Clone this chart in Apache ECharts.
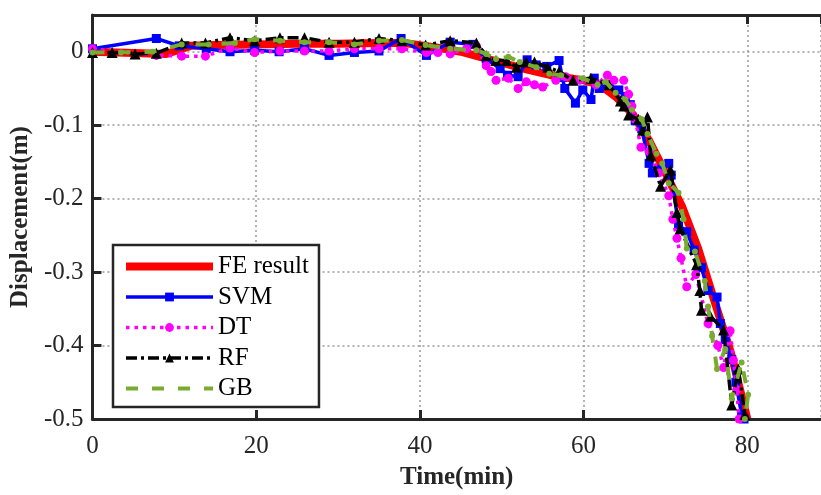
<!DOCTYPE html>
<html>
<head>
<meta charset="utf-8">
<script src="https://cdn.jsdelivr.net/npm/echarts@6/dist/echarts.min.js"></script>
<style>
html,body{margin:0;padding:0;background:#fff;}
#chart{width:821px;height:495px;}
</style>
</head>
<body>
<div id="chart"></div>
<script>
var seriesNames = ['FE result', 'SVM', 'DT', 'RF', 'GB'];
var xTicks = [0, 20, 40, 60, 80];
var yTicks = [0, -0.1, -0.2, -0.3, -0.4, -0.5];

var feTime = [0, 3, 6, 9, 12, 15, 20, 25, 30, 35, 38, 40, 43, 45, 48, 50, 53, 56, 60, 62, 64, 66, 68, 70, 72, 74, 76, 78, 80];
var feDisp = [0, -0.001, -0.002, -0.003, 0.008, 0.009, 0.010, 0.011, 0.011, 0.012, 0.012, 0.009, 0.004, 0.000, -0.009, -0.015, -0.024, -0.032, -0.039, -0.045, -0.062, -0.085, -0.121, -0.165, -0.210, -0.268, -0.340, -0.410, -0.500];

var svmTime = [0, 7.8, 10.6, 13.9, 16.8, 19.8, 22.8, 25.9, 28.9, 32, 35, 37.7, 40.8, 43.7, 46.5, 48.1, 49.8, 50.7, 52, 53.1, 54.2, 55.5, 57, 57.4, 57.7, 59, 59.9, 60.9, 61.3, 61.9, 63.1, 64.3, 65.1, 65.7, 66.3, 67.1, 68, 68.4, 69.2, 70.4, 70.7, 71.6, 72.6, 73.5, 74.4, 75.2, 76.3, 76.7, 77.3, 78.1, 78.6, 79.3, 79.6];
var svmDisp = [0.004, 0.018, 0.008, 0.004, 0.000, 0.002, 0.000, 0.004, -0.005, -0.001, 0.001, 0.018, -0.005, 0.013, 0.010, -0.010, -0.023, -0.032, -0.034, -0.011, -0.018, -0.020, -0.012, -0.035, -0.050, -0.070, -0.052, -0.065, -0.036, -0.050, -0.045, -0.052, -0.061, -0.072, -0.094, -0.105, -0.152, -0.165, -0.160, -0.152, -0.168, -0.236, -0.245, -0.270, -0.294, -0.325, -0.334, -0.370, -0.392, -0.419, -0.450, -0.494, -0.500];

var dtTime = [0, 7.8, 10.9, 13.8, 16.8, 19.8, 22.9, 25.9, 28.9, 32, 35, 37.8, 40.8, 42.2, 43.7, 45.7, 46.9, 48.1, 48.7, 49.3, 50.8, 52, 53, 54, 55, 56.6, 57.8, 59.5, 61.5, 62.9, 63.7, 64.9, 65.5, 65.9, 66.3, 67, 68, 69.2, 70.4, 70.9, 71.4, 71.9, 72.6, 73.7, 75.2, 76.4, 77.1, 77.9, 78.3, 78.7, 79.0];
var dtDisp = [0.004, -0.005, -0.006, -0.006, 0.005, -0.001, 0.001, 0.001, 0.001, 0.004, 0.004, 0.004, -0.001, -0.001, -0.003, 0.004, 0.008, -0.019, -0.027, -0.039, -0.036, -0.050, -0.041, -0.045, -0.048, -0.039, -0.034, -0.039, -0.045, -0.032, -0.039, -0.039, -0.058, -0.074, -0.092, -0.130, -0.136, -0.165, -0.196, -0.228, -0.254, -0.281, -0.320, -0.303, -0.370, -0.400, -0.430, -0.380, -0.420, -0.460, -0.500];

var rfTime = [0, 2.4, 5.2, 7.8, 10.9, 13.8, 16.8, 19.8, 22.9, 25.9, 28.9, 32, 35, 37.8, 40.7, 43.7, 46.9, 48.1, 49.3, 50.6, 51.8, 53, 54, 55.6, 57, 58.7, 60.9, 63.1, 64.5, 64.9, 65.5, 66.7, 67.2, 67.8, 68.2, 69.4, 70.6, 71.4, 71.8, 73.8, 74.2, 74.4, 75.5, 77.1, 78.1, 78.9, 79.7];
var rfDisp = [-0.001, -0.001, -0.003, -0.002, 0.012, 0.012, 0.019, 0.015, 0.019, 0.019, 0.013, 0.013, 0.018, 0.015, 0.009, 0.015, 0.012, -0.005, -0.012, -0.012, -0.021, -0.014, -0.014, -0.021, -0.027, -0.039, -0.036, -0.045, -0.067, -0.074, -0.086, -0.092, -0.107, -0.089, -0.141, -0.183, -0.161, -0.219, -0.241, -0.290, -0.325, -0.352, -0.360, -0.379, -0.481, -0.432, -0.494];

var gbTime = [0, 3.5, 7.3, 10.9, 14.2, 17.4, 19.8, 22.9, 25.9, 28.9, 32, 35, 37.8, 40.7, 43.7, 46.9, 48.1, 49.3, 50.8, 52.2, 54.2, 55.8, 57.2, 59.9, 61.7, 62.7, 63.9, 65.1, 65.9, 67.1, 67.8, 68.9, 69.6, 70.4, 71.6, 72.2, 72.6, 73.6, 74.8, 75.2, 75.7, 76.3, 77.3, 78.1, 79.3, 80.1, 79.7];
var gbDisp = [-0.001, -0.001, 0.000, 0.010, 0.010, 0.012, 0.017, 0.015, 0.013, 0.013, 0.010, 0.015, 0.016, 0.009, 0.004, 0.002, -0.003, -0.010, -0.007, -0.014, -0.021, -0.030, -0.032, -0.036, -0.045, -0.041, -0.056, -0.065, -0.079, -0.092, -0.112, -0.139, -0.152, -0.179, -0.192, -0.228, -0.268, -0.272, -0.312, -0.347, -0.387, -0.432, -0.405, -0.472, -0.423, -0.467, -0.500];

function pairs(t, v) { return t.map(function (x, i) { return [x, v[i]]; }); }

var FONT = '"Liberation Serif", "Times New Roman", serif';
var AX = '#262626';

var chart = echarts.init(document.getElementById('chart'), null, {renderer: 'canvas'});
var option = {
  animation: false,
  backgroundColor: '#ffffff',
  grid: {left: 90, top: 15, width: 733, height: 412, containLabel: false},
  legend: {
    orient: 'vertical',
    left: 113, top: 245,
    padding: [9, 10, 6, 9],
    itemGap: 5.5,
    itemWidth: 87, itemHeight: 11,
    backgroundColor: '#fff',
    borderColor: AX, borderWidth: 2.5, borderRadius: 0,
    textStyle: {fontFamily: FONT, fontSize: 25, color: '#000', lineHeight: 25},
    data: [
      {name: seriesNames[0], lineStyle: {width: 8}, itemStyle: {opacity: 0}},
      {name: seriesNames[1], lineStyle: {width: 3.5}},
      {name: seriesNames[2], lineStyle: {width: 3.5}},
      {name: seriesNames[3], lineStyle: {width: 3.5}},
      {name: seriesNames[4], lineStyle: {width: 4}, itemStyle: {opacity: 0}}
    ]
  },
  xAxis: [{
    type: 'value', min: 0, max: 89, interval: 20, position: 'bottom',
    name: 'Time(min)', nameLocation: 'middle', nameGap: 46,
    nameTextStyle: {fontFamily: FONT, fontSize: 25, fontWeight: 'bold', color: AX},
    axisLine: {show: true, onZero: false, lineStyle: {color: AX, width: 3}},
    axisTick: {show: true, inside: true, length: 9, lineStyle: {color: AX, width: 3}},
    axisLabel: {fontFamily: FONT, fontSize: 25, color: AX, margin: 15, showMaxLabel: false},
    splitLine: {show: true, lineStyle: {color: '#9a9a9a', width: 1.5, type: [2, 3]}}
  }, {
    type: 'value', min: 0, max: 89, interval: 20, position: 'top',
    axisLine: {show: true, onZero: false, lineStyle: {color: AX, width: 3}},
    axisTick: {show: true, inside: true, length: 9, lineStyle: {color: AX, width: 3}},
    axisLabel: {show: false},
    splitLine: {show: false}
  }],
  yAxis: [{
    type: 'value', min: -0.5, max: 0.05, interval: 0.1,
    name: 'Displacement(m)', nameLocation: 'middle', nameGap: 56, nameRotate: 90,
    nameTextStyle: {fontFamily: FONT, fontSize: 25, fontWeight: 'bold', color: AX},
    axisLine: {show: true, onZero: false, lineStyle: {color: AX, width: 3}},
    axisTick: {show: true, inside: true, length: 9, lineStyle: {color: AX, width: 3}},
    axisLabel: {fontFamily: FONT, fontSize: 25, color: AX, margin: 9, showMaxLabel: false,
      formatter: function (v) { var r = Math.round(v * 10) / 10; return r === 0 ? '0' : String(r); }},
    splitLine: {show: true, lineStyle: {color: '#9a9a9a', width: 1.5, type: [2, 3]}}
  }],
  series: [{
    name: 'FE result', type: 'line', data: pairs(feTime, feDisp),
    symbol: 'none', color: '#ff0000',
    lineStyle: {color: '#ff0000', width: 8}, z: 2
  }, {
    name: 'SVM', type: 'line', data: pairs(svmTime, svmDisp),
    symbol: 'rect', symbolSize: 9, color: '#0000ff',
    itemStyle: {color: '#0000ff'},
    lineStyle: {color: '#0000ff', width: 3.5}, z: 3
  }, {
    name: 'DT', type: 'line', data: pairs(dtTime, dtDisp),
    symbol: 'circle', symbolSize: 9, color: '#ff00ff',
    itemStyle: {color: '#ff00ff'},
    lineStyle: {color: '#ff00ff', width: 3.5, type: [3.5, 5]}, z: 4
  }, {
    name: 'RF', type: 'line', data: pairs(rfTime, rfDisp),
    symbol: 'triangle', symbolSize: 11, color: '#000000',
    itemStyle: {color: '#000000'},
    lineStyle: {color: '#000000', width: 3.5, type: [11, 4, 3, 4]}, z: 5
  }, {
    name: 'GB', type: 'line', data: pairs(gbTime, gbDisp),
    symbol: 'circle', symbolSize: 6, color: '#77ac30',
    itemStyle: {color: '#77ac30'},
    lineStyle: {color: '#77ac30', width: 4, type: [12, 14]}, z: 6
  }]
};
chart.setOption(option);
</script>
</body>
</html>
